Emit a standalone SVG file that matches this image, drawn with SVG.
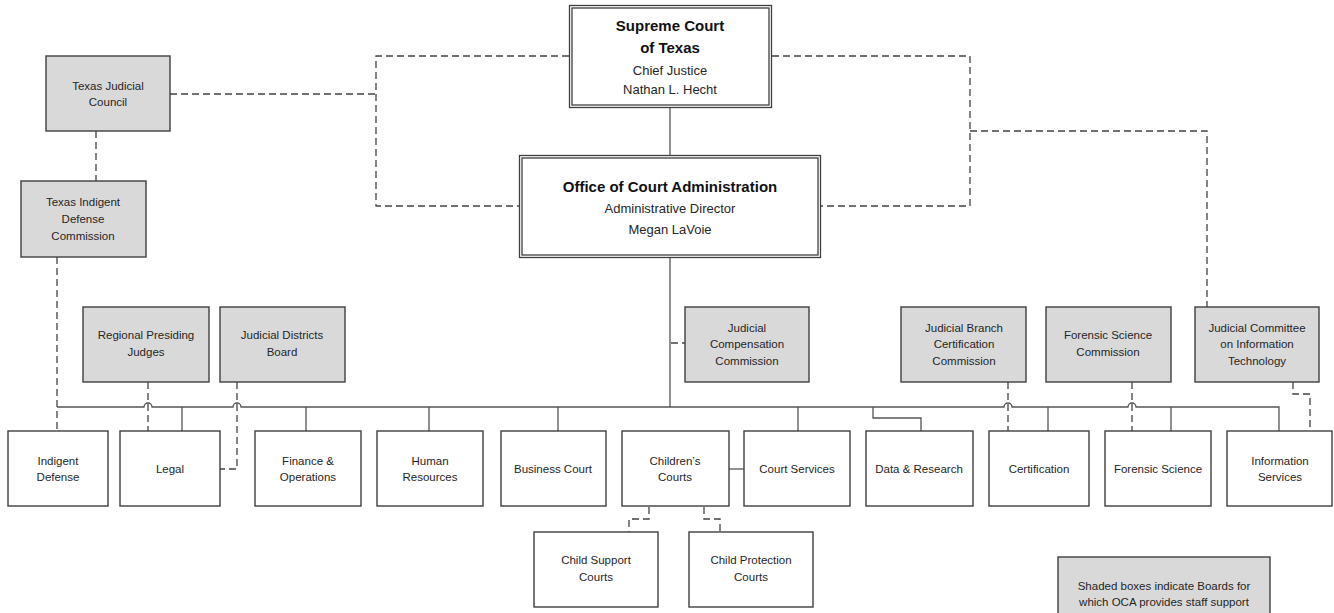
<svg xmlns="http://www.w3.org/2000/svg" width="1334" height="613" viewBox="0 0 1334 613">
<style>
.box{fill:#fff;stroke:#3f3f3f;stroke-width:1.4}
.sh{fill:#d9d9d9;stroke:#3f3f3f;stroke-width:1.4}
.t{font-family:"Liberation Sans",Arial,sans-serif;font-size:11.5px;fill:#262626;text-anchor:middle}
.tb{font-family:"Liberation Sans",Arial,sans-serif;font-size:15px;font-weight:bold;fill:#111;text-anchor:middle}
.tm{font-family:"Liberation Sans",Arial,sans-serif;font-size:13px;fill:#262626;text-anchor:middle}
.ln{fill:none;stroke:#555;stroke-width:1.3}
.ds{fill:none;stroke:#444;stroke-width:1.3;stroke-dasharray:7,4}
</style>
<rect width="1334" height="613" fill="#fff"/>
<g id="connectors">
<path class="ln" d="M670 107V155"/>
<path class="ln" d="M670 257V407"/>
<path class="ds" d="M569 56H376V206H519"/>
<path class="ds" d="M170 94H376"/>
<path class="ds" d="M772 56H970V206H821"/>
<path class="ds" d="M970 131H1207V307"/>
<path class="ds" d="M96 131V181"/>
<path class="ds" d="M57 257V431"/>
<path class="ln" d="M57 407H144a4 4 0 0 1 8 0H233a4 4 0 0 1 8 0H1004a4 4 0 0 1 8 0H1128a4 4 0 0 1 8 0H1279V431"/>
<path class="ln" d="M182 407V431M306 407V431M429 407V431M558 407V431M798 407V431M1048 407V431M1171 407V431"/>
<path class="ln" d="M873 407V418H921V431"/>
<path class="ln" d="M729 469H744"/>
<path class="ds" d="M148 382V431"/>
<path class="ds" d="M237 382V469H220"/>
<path class="ds" d="M671 343H685"/>
<path class="ds" d="M1008 382V431"/>
<path class="ds" d="M1132 382V431"/>
<path class="ds" d="M1293 382V394H1310V431"/>
<path class="ds" d="M649 507V519H629V532"/>
<path class="ds" d="M704 507V519H720V532"/>
</g>
<g id="supreme-court">
<rect x="569.5" y="5.5" width="202" height="102" fill="#fff" stroke="#3f3f3f" stroke-width="1.3"/>
<rect x="572" y="8" width="197" height="97" fill="none" stroke="#3f3f3f" stroke-width="1.3"/>
<text class="tb" x="670" y="31">Supreme Court</text>
<text class="tb" x="670" y="53">of Texas</text>
<text class="tm" x="670" y="74.5">Chief Justice</text>
<text class="tm" x="670" y="93.5">Nathan L. Hecht</text>
</g>
<g id="oca">
<rect x="519.5" y="155.5" width="301" height="102" fill="#fff" stroke="#3f3f3f" stroke-width="1.3"/>
<rect x="522" y="158" width="296" height="97" fill="none" stroke="#3f3f3f" stroke-width="1.3"/>
<text class="tb" x="670" y="192" font-size="14.5px">Office of Court Administration</text>
<text class="tm" x="670" y="213">Administrative Director</text>
<text class="tm" x="670" y="234">Megan LaVoie</text>
</g>
<g id="tjc">
<rect class="sh" x="46" y="56" width="124" height="75"/>
<text class="t" x="108" y="90">Texas Judicial</text>
<text class="t" x="108" y="106">Council</text>
</g>
<g id="tidc">
<rect class="sh" x="21" y="181" width="125" height="76"/>
<text class="t" x="83" y="206">Texas Indigent</text>
<text class="t" x="83" y="223">Defense</text>
<text class="t" x="83" y="240">Commission</text>
</g>
<g id="rpj">
<rect class="sh" x="83" y="307" width="126" height="75"/>
<text class="t" x="146" y="339">Regional Presiding</text>
<text class="t" x="146" y="356">Judges</text>
</g>
<g id="jdb">
<rect class="sh" x="220" y="307" width="125" height="75"/>
<text class="t" x="282" y="339">Judicial Districts</text>
<text class="t" x="282" y="356">Board</text>
</g>
<g id="jcc">
<rect class="sh" x="685" y="307" width="124" height="75"/>
<text class="t" x="747" y="332">Judicial</text>
<text class="t" x="747" y="348">Compensation</text>
<text class="t" x="747" y="365">Commission</text>
</g>
<g id="jbcc">
<rect class="sh" x="901" y="307" width="125" height="75"/>
<text class="t" x="964" y="332">Judicial  Branch</text>
<text class="t" x="964" y="348">Certification</text>
<text class="t" x="964" y="365">Commission</text>
</g>
<g id="fsc">
<rect class="sh" x="1046" y="307" width="125" height="75"/>
<text class="t" x="1108" y="339">Forensic Science</text>
<text class="t" x="1108" y="356">Commission</text>
</g>
<g id="jcit">
<rect class="sh" x="1195" y="307" width="124" height="75"/>
<text class="t" x="1257" y="332">Judicial Committee</text>
<text class="t" x="1257" y="348">on Information</text>
<text class="t" x="1257" y="365">Technology</text>
</g>
<g id="indigent-defense">
<rect class="box" x="8" y="431" width="100" height="75"/>
<text class="t" x="58" y="465">Indigent</text>
<text class="t" x="58" y="481">Defense</text>
</g>
<g id="legal">
<rect class="box" x="120" y="431" width="100" height="75"/>
<text class="t" x="170" y="473">Legal</text>
</g>
<g id="finance">
<rect class="box" x="255" y="431" width="106" height="75"/>
<text class="t" x="308" y="465">Finance &amp;</text>
<text class="t" x="308" y="481">Operations</text>
</g>
<g id="hr">
<rect class="box" x="377" y="431" width="106" height="75"/>
<text class="t" x="430" y="465">Human</text>
<text class="t" x="430" y="481">Resources</text>
</g>
<g id="business-court">
<rect class="box" x="501" y="431" width="105" height="75"/>
<text class="t" x="553" y="473">Business Court</text>
</g>
<g id="childrens-courts">
<rect class="box" x="622" y="431" width="107" height="75"/>
<text class="t" x="675" y="465">Children’s</text>
<text class="t" x="675" y="481">Courts</text>
</g>
<g id="court-services">
<rect class="box" x="744" y="431" width="106" height="75"/>
<text class="t" x="797" y="473">Court Services</text>
</g>
<g id="data-research">
<rect class="box" x="866" y="431" width="107" height="75"/>
<text class="t" x="919" y="473">Data &amp; Research</text>
</g>
<g id="certification">
<rect class="box" x="989" y="431" width="100" height="75"/>
<text class="t" x="1039" y="473">Certification</text>
</g>
<g id="forensic-science">
<rect class="box" x="1105" y="431" width="106" height="75"/>
<text class="t" x="1158" y="473">Forensic Science</text>
</g>
<g id="information-services">
<rect class="box" x="1227" y="431" width="105" height="75"/>
<text class="t" x="1280" y="465">Information</text>
<text class="t" x="1280" y="481">Services</text>
</g>
<g id="child-support">
<rect class="box" x="534" y="532" width="124" height="75"/>
<text class="t" x="596" y="564">Child Support</text>
<text class="t" x="596" y="581">Courts</text>
</g>
<g id="child-protection">
<rect class="box" x="689" y="532" width="124" height="75"/>
<text class="t" x="751" y="564">Child Protection</text>
<text class="t" x="751" y="581">Courts</text>
</g>
<g id="legend">
<rect class="sh" x="1058" y="557" width="212" height="70"/>
<text class="t" x="1164" y="590" font-size="12px">Shaded boxes indicate Boards for</text>
<text class="t" x="1164" y="606" font-size="12px">which OCA provides staff support</text>
</g>
</svg>
